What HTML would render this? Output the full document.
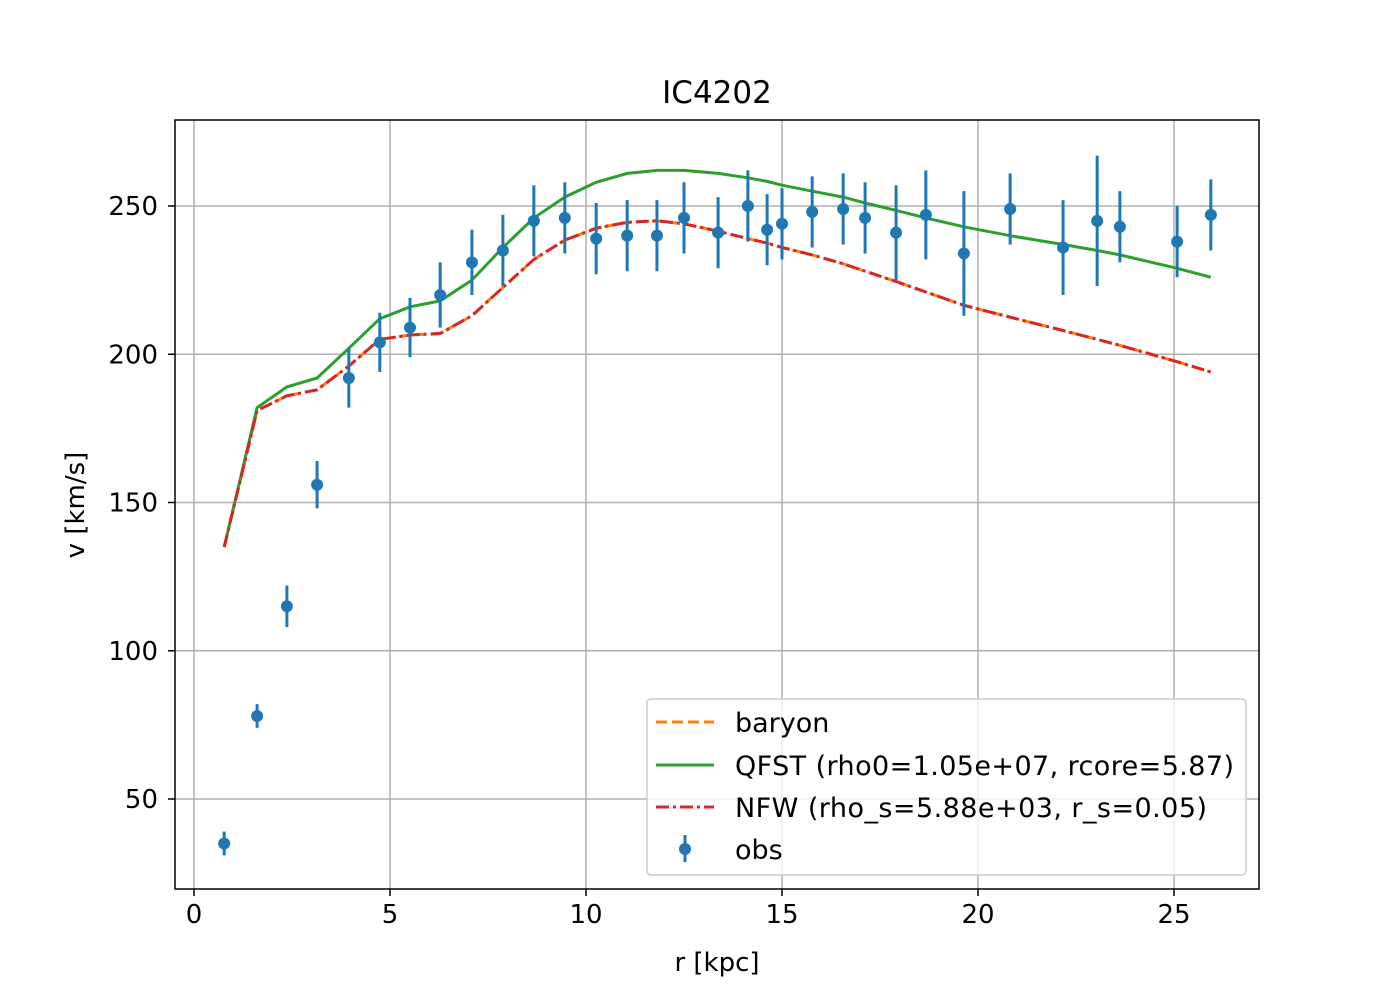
<!DOCTYPE html>
<html><head><meta charset="utf-8"><style>
html,body{margin:0;padding:0;background:#fff;}
svg{display:block;font-family:"DejaVu Sans","Liberation Sans",sans-serif;}
</style></head><body>
<svg id="chart" width="1400" height="1000" viewBox="0 0 1400 1000" xmlns="http://www.w3.org/2000/svg">
<rect width="1400" height="1000" fill="#fff"/>
<g id="grid"></g>
<g id="series"></g>
<rect x="175" y="120" width="1084" height="769" fill="none" stroke="#000" stroke-width="1.5"/>
<g id="ticks"></g>
<text x="717" y="103" font-size="31" text-anchor="middle">IC4202</text>
<text x="717" y="971" font-size="26" text-anchor="middle">r [kpc]</text>
<text x="84" y="505" font-size="26" text-anchor="middle" transform="rotate(-90 84 505)">v [km/s]</text>
<g>
<rect x="647" y="699" width="599" height="176" rx="4" fill="#fff" fill-opacity="0.8" stroke="#ccc" stroke-width="1.5"/>
<line x1="656" y1="722" x2="714" y2="722" stroke="#ff7f0e" stroke-width="3" stroke-dasharray="11,5"/>
<text x="735" y="732" font-size="27">baryon</text>
<line x1="656" y1="765" x2="714" y2="765" stroke="#2ca02c" stroke-width="3"/>
<text x="735" y="775" font-size="27" textLength="499">QFST (rho0=1.05e+07, rcore=5.87)</text>
<line x1="656" y1="807" x2="714" y2="807" stroke="#d62728" stroke-width="3" stroke-dasharray="13,4,3,4"/>
<text x="735" y="817" font-size="27" textLength="472">NFW (rho_s=5.88e+03, r_s=0.05)</text>
<line x1="685" y1="835" x2="685" y2="862" stroke="#1f77b4" stroke-width="3"/>
<circle cx="685" cy="849" r="6" fill="#1f77b4"/>
<text x="735" y="859" font-size="27">obs</text>
</g>
</svg>
<script>
const radii = [0.77,1.61,2.37,3.14,3.95,4.74,5.51,6.28,7.09,7.88,8.67,9.46,10.26,11.05,11.81,12.5,13.37,14.13,14.62,15.0,15.77,16.56,17.12,17.91,18.67,19.64,20.82,22.17,23.04,23.62,25.08,25.94];
const obsV = [35,78,115,156,192,204,209,220,231,235,245,246,239,240,240,246,241,250,242,244,248,249,246,241,247,234,249,236,245,243,238,247];
const obsErr = [4,4,7,8,10,10,10,11,11,12,12,12,12,12,12,12,12,12,12,12,12,12,12,16,15,21,12,16,22,12,12,12];
const qfstV = [135,182,189,192,202,212,216,218,225,236,246,253,258,261,262,262,261,259.5,258.3,257,255,253,251,248.5,246,243,240,237,235,233.5,229,226];
const nfwV = [135,181,186,188,196,205,206.5,207,213,222.5,232,238.5,242.5,244.5,245,244,241.5,239,237.5,236,233.5,230.5,228,224.5,221,216.5,212.5,208,205,203,197.5,194];
const baryonV = nfwV.slice();
const xTicks = [0,5,10,15,20,25];
const yTicks = [50,100,150,200,250];

const NS="http://www.w3.org/2000/svg";
const X = r => 194 + r*39.2;
const Y = v => 206 - (v-250)*2.965;
function mk(tag, attrs, parent){const e=document.createElementNS(NS,tag);for(const k in attrs)e.setAttribute(k,attrs[k]);parent.appendChild(e);return e;}
const grid=document.getElementById('grid'), ticks=document.getElementById('ticks'), series=document.getElementById('series');
xTicks.forEach(t=>{
  const g=mk('line',{x1:X(t),x2:X(t),y1:120,y2:889,stroke:'#b0b0b0','stroke-width':1.5},grid);
  
  
  const tk=mk('line',{x1:X(t),x2:X(t),y1:889,y2:896,stroke:'#000','stroke-width':1.5},ticks);
  
  
  const tx=mk('text',{x:X(t),y:923,'font-size':26,'text-anchor':'middle'},ticks);
  tx.textContent=t;
  
  
});
yTicks.forEach(t=>{
  const g=mk('line',{x1:175,x2:1259,y1:Y(t),y2:Y(t),stroke:'#b0b0b0','stroke-width':1.5},grid);
  
  
  const tk=mk('line',{x1:168,x2:175,y1:Y(t),y2:Y(t),stroke:'#000','stroke-width':1.5},ticks);
  
  
  const tx=mk('text',{x:158,y:Y(t)+9,'font-size':26,'text-anchor':'end'},ticks);
  tx.textContent=t;
  
  
});
const pts = vs => vs.map((v,i)=>X(radii[i]).toFixed(1)+','+Y(v).toFixed(1)).join(' ');
const b=mk('polyline',{points:pts(baryonV),fill:'none',stroke:'#ff7f0e','stroke-width':3,'stroke-dasharray':'11,5'},series);


const q=mk('polyline',{points:pts(qfstV),fill:'none',stroke:'#2ca02c','stroke-width':3},series);


const n=mk('polyline',{points:pts(nfwV),fill:'none',stroke:'#d62728','stroke-width':3,'stroke-dasharray':'13,4,3,4'},series);


obsV.forEach((v,i)=>{
  const e=mk('line',{x1:X(radii[i]),x2:X(radii[i]),y1:Y(v-obsErr[i]),y2:Y(v+obsErr[i]),stroke:'#1f77b4','stroke-width':3},series);
  
  
  const c=mk('circle',{cx:X(radii[i]),cy:Y(v),r:6,fill:'#1f77b4'},series);
  
  
});
</script>
</body></html>
